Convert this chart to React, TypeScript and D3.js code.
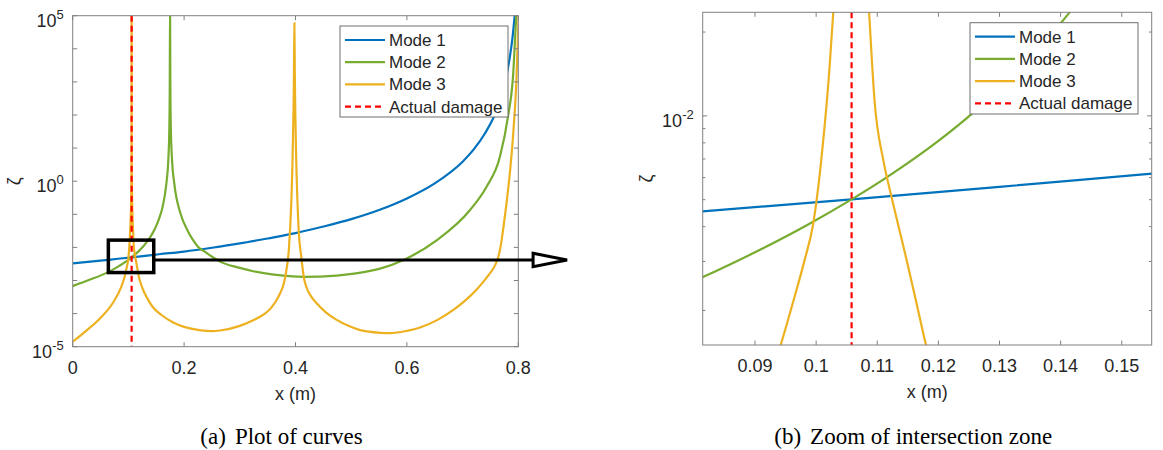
import React from "react";
import * as d3 from "d3";

type Pt = [number, number];

// Values: [x (m), log10 ζ]
const mode1: Pt[] = [
  [0, -2.48], [0.05, -2.4], [0.0814, -2.343], [0.1058, -2.3], [0.13, -2.255], [0.155, -2.207],
  [0.2, -2.125], [0.25, -2.01], [0.3, -1.88], [0.35, -1.73], [0.4, -1.57], [0.45, -1.37],
  [0.5, -1.146], [0.55, -0.87], [0.6, -0.52], [0.65, -0.065], [0.7, 0.59], [0.72, 0.96],
  [0.74, 1.44], [0.76, 2.1], [0.77, 2.6], [0.78, 3.29], [0.785, 3.77], [0.79, 4.4],
  [0.795, 5.3], [0.799, 6.2],
];

const mode2: Pt[] = [
  [0, -3.17], [0.03, -2.98], [0.061, -2.77], [0.0814, -2.58], [0.09, -2.49], [0.0987, -2.39],
  [0.1058, -2.3], [0.1116, -2.22], [0.12, -2.09], [0.1256, -1.99], [0.13, -1.9], [0.135, -1.79],
  [0.1399, -1.67], [0.1414, -1.63], [0.148, -1.42], [0.155, -1.14], [0.1616, -0.76], [0.1676, -0.15],
  [0.1718, 0.7], [0.1735, 1.6], [0.1743, 3.0], [0.1748, 5.3], [0.1753, 3.0], [0.1762, 1.6],
  [0.1785, 0.6], [0.1823, -0.06], [0.194, -1.0], [0.205, -1.45], [0.215, -1.75], [0.2245, -1.97],
  [0.239, -2.15], [0.2645, -2.43], [0.3, -2.62], [0.324, -2.72], [0.37, -2.84], [0.414, -2.89],
  [0.474, -2.85], [0.534, -2.71], [0.552, -2.64], [0.594, -2.38], [0.654, -1.78], [0.7134, -0.87],
  [0.743, -0.17], [0.767, 0.74], [0.7815, 1.95], [0.7905, 3.16], [0.7965, 5.02], [0.799, 5.6],
];

const mode3: Pt[] = [
  [0, -4.85], [0.024, -4.52], [0.048, -4.16], [0.072, -3.68], [0.0868, -3.21], [0.0942, -2.823],
  [0.0963, -2.663], [0.0981, -2.519], [0.0995, -2.39], [0.101, -2.124], [0.1022, -1.824],
  [0.1028, -1.628], [0.104, -1.18], [0.105, -0.48], [0.1055, 0.37], [0.1057, 1.3], [0.1058, 5.3],
  [0.1059, 1.3], [0.1061, 0.37], [0.1066, -0.48], [0.1076, -1.18], [0.10867, -1.628],
  [0.10955, -1.944], [0.111, -2.16], [0.11232, -2.29], [0.11456, -2.495], [0.11632, -2.663],
  [0.11797, -2.823], [0.125, -3.22], [0.135, -3.57], [0.1437, -3.8], [0.16, -4.05], [0.1796, -4.26],
  [0.2, -4.4], [0.2275, -4.5], [0.25, -4.53], [0.2645, -4.51], [0.3, -4.37], [0.324, -4.2],
  [0.345, -4.0], [0.355, -3.85], [0.365, -3.62], [0.372, -3.4], [0.379, -3.09], [0.383, -2.75],
  [0.388, -2.08], [0.3926, -0.57], [0.395, 0.9], [0.3972, 3.2], [0.398, 4.78], [0.3988, 3.2],
  [0.401, 0.9], [0.4034, -0.57], [0.406, -1.57], [0.4105, -2.3], [0.4148, -2.89], [0.42, -3.22],
  [0.428, -3.48], [0.438, -3.69], [0.455, -3.97], [0.474, -4.19], [0.495, -4.37], [0.516, -4.5],
  [0.552, -4.58], [0.57, -4.59], [0.6, -4.52], [0.6236, -4.42], [0.655, -4.19], [0.6834, -3.89],
  [0.705, -3.6], [0.7253, -3.27], [0.74, -2.98], [0.7493, -2.78], [0.758, -2.55], [0.764, -2.3],
  [0.769, -1.9], [0.774, -1.3], [0.78, -0.5], [0.786, 0.45], [0.792, 1.7], [0.7965, 3.0],
  [0.8, 4.7], [0.8015, 5.5],
];

const actualDamageX = 0.1058;

const seriesNames = ["Mode 1", "Mode 2", "Mode 3", "Actual damage"];
const seriesColors = ["#0072BD", "#77AC30", "#EDB120", "#FF0000"];
const seriesData = [mode1, mode2, mode3];

const leftXTicks = [0, 0.2, 0.4, 0.6, 0.8];
const leftXTickLabels = ["0", "0.2", "0.4", "0.6", "0.8"];
const leftYDecades = [-5, -4, -3, -2, -1, 0, 1, 2, 3, 4, 5];
const leftYLabelled = [-5, 0, 5];

const rightXTicks = [0.09, 0.1, 0.11, 0.12, 0.13, 0.14, 0.15];
const rightXTickLabels = ["0.09", "0.1", "0.11", "0.12", "0.13", "0.14", "0.15"];
const rightYMajor = [-2];
const rightYMinor = [0.002, 0.003, 0.004, 0.005, 0.006, 0.007, 0.008, 0.009, 0.02];

// zoom indicator, in data units of the left panel (x in m, y in log10 ζ)
const zoomBox = { x0: 0.064, x1: 0.1455, y0: -2.76, y1: -1.78, arrowY: -2.38, arrowTipX: 0.8876 };

const captionTags = ["(a)", "(b)"];
const captionTexts = ["Plot of curves", "Zoom of intersection zone"];

const SANS = "'Liberation Sans', Arial, Helvetica, sans-serif";
const SERIF = "'Liberation Serif', 'Times New Roman', Times, serif";
const AXIS = "#808080";
const TXT = "#262626";

type PanelProps = {
  id: string;
  x: d3.ScaleLinear<number, number>;
  y: d3.ScaleLogarithmic<number, number>;
  xTicks: number[];
  xTickLabels: string[];
  yMajor: number[];
  yLabelled: number[];
  yMinor: number[];
  legend: { x: number; y: number; w: number; h: number };
  yLabelX: number;
  caption: number;
};

function Pow10({ x, y, e }: { x: number; y: number; e: number }) {
  return (
    <text x={x} y={y} textAnchor="end" fontFamily={SANS} fontSize={18} fill={TXT}>
      10
      <tspan fontSize={13} dy={-8}>{String(e)}</tspan>
    </text>
  );
}

function Panel(p: PanelProps) {
  const [x0, x1] = p.x.range();
  const [yb, yt] = p.y.range();
  const tl = 4.5;
  const line = d3
    .line<Pt>()
    .x((d) => p.x(d[0]))
    .y((d) => p.y(Math.pow(10, d[1])))
    .curve(d3.curveMonotoneX);
  const cx = (x0 + x1) / 2;
  const cy = (yb + yt) / 2;
  const lg = p.legend;
  return (
    <g>
      <defs>
        <clipPath id={p.id}>
          <rect x={x0} y={yt} width={x1 - x0} height={yb - yt} />
        </clipPath>
      </defs>
      <rect x={x0} y={yt} width={x1 - x0} height={yb - yt} fill="#fff" />
      <g clipPath={`url(#${p.id})`}>
        {seriesData.map((d, i) => (
          <path key={i} d={line(d) || ""} fill="none" stroke={seriesColors[i]} strokeWidth={2.2} />
        ))}
        <line
          x1={p.x(actualDamageX)}
          x2={p.x(actualDamageX)}
          y1={yt}
          y2={yb}
          stroke={seriesColors[3]}
          strokeWidth={2.2}
          strokeDasharray="6,4"
        />
      </g>
      <rect x={x0} y={yt} width={x1 - x0} height={yb - yt} fill="none" stroke={AXIS} strokeWidth={1} />
      {p.xTicks.map((t, i) => (
        <g key={"xt" + i}>
          <line x1={p.x(t)} x2={p.x(t)} y1={yb} y2={yb - tl} stroke={AXIS} />
          <line x1={p.x(t)} x2={p.x(t)} y1={yt} y2={yt + tl} stroke={AXIS} />
          <text x={p.x(t)} y={yb + 27} textAnchor="middle" fontFamily={SANS} fontSize={18} fill={TXT}>
            {p.xTickLabels[i]}
          </text>
        </g>
      ))}
      {p.yMajor.map((e) => {
        const yy = p.y(Math.pow(10, e));
        return (
          <g key={"ym" + e}>
            <line x1={x0} x2={x0 + tl} y1={yy} y2={yy} stroke={AXIS} />
            <line x1={x1} x2={x1 - tl} y1={yy} y2={yy} stroke={AXIS} />
            {p.yLabelled.includes(e) && <Pow10 x={x0 - 9} y={yy + 11} e={e} />}
          </g>
        );
      })}
      {p.yMinor.map((v) => {
        const yy = p.y(v);
        return (
          <g key={"yn" + v}>
            <line x1={x0} x2={x0 + 2.7} y1={yy} y2={yy} stroke={AXIS} />
            <line x1={x1} x2={x1 - 2.7} y1={yy} y2={yy} stroke={AXIS} />
          </g>
        );
      })}
      <text x={cx} y={yb + 53} textAnchor="middle" fontFamily={SANS} fontSize={18} fill={TXT}>
        x (m)
      </text>
      <text
        transform={`translate(${p.yLabelX},${cy}) rotate(-90)`}
        textAnchor="middle"
        dy="0.35em"
        fontFamily={SANS}
        fontSize={18}
        fill={TXT}
      >
        ζ
      </text>
      <rect x={lg.x} y={lg.y} width={lg.w} height={lg.h} fill="#fff" stroke="#6e6e6e" strokeWidth={1} />
      {seriesNames.map((n, i) => {
        const ry = lg.y + 14 + i * 22.2;
        return (
          <g key={"lg" + i}>
            <line
              x1={lg.x + 5}
              x2={lg.x + 45}
              y1={ry}
              y2={ry}
              stroke={seriesColors[i]}
              strokeWidth={2.2}
              strokeDasharray={i === 3 ? "6,4" : undefined}
            />
            <text x={lg.x + 49} y={ry + 6} fontFamily={SANS} fontSize={17} fill={TXT}>
              {n}
            </text>
          </g>
        );
      })}
      <text x={cx - 14} y={444} textAnchor="middle" fontFamily={SERIF} fontSize={23} fill="#000">
        {captionTags[p.caption]}
        <tspan dx={9}>{captionTexts[p.caption]}</tspan>
      </text>
    </g>
  );
}

export default function App() {
  const xL = d3.scaleLinear().domain([0, 0.8]).range([72.7, 518.3]);
  const yL = d3.scaleLog().domain([1e-5, 1e5]).range([346.7, 15.7]);
  const xR = d3.scaleLinear().domain([0.08144, 0.1549]).range([702.7, 1151.7]);
  const yR = d3.scaleLog().domain([Math.pow(10, -2.823), Math.pow(10, -1.628)]).range([345, 12.3]);

  const bx0 = xL(zoomBox.x0);
  const bx1 = xL(zoomBox.x1);
  const by0 = yL(Math.pow(10, zoomBox.y1));
  const by1 = yL(Math.pow(10, zoomBox.y0));
  const ay = yL(Math.pow(10, zoomBox.arrowY));
  const tipX = xL(zoomBox.arrowTipX);
  const headLen = 34;
  const headHalf = 6.7;

  return (
    <svg
      width={1163}
      height={450}
      viewBox="0 0 1163 450"
      style={{ position: "absolute", left: 0, top: 0, background: "#fff" }}
    >
      <rect width={1163} height={450} fill="#fff" />
      <Panel
        id="clipL"
        x={xL}
        y={yL}
        xTicks={leftXTicks}
        xTickLabels={leftXTickLabels}
        yMajor={leftYDecades}
        yLabelled={leftYLabelled}
        yMinor={[]}
        legend={{ x: 340, y: 26, w: 168, h: 91 }}
        yLabelX={14}
        caption={0}
      />
      <Panel
        id="clipR"
        x={xR}
        y={yR}
        xTicks={rightXTicks}
        xTickLabels={rightXTickLabels}
        yMajor={rightYMajor}
        yLabelled={rightYMajor}
        yMinor={rightYMinor}
        legend={{ x: 970, y: 22.7, w: 168, h: 91.3 }}
        yLabelX={646}
        caption={1}
      />
      <rect x={bx0} y={by0} width={bx1 - bx0} height={by1 - by0} fill="none" stroke="#000" strokeWidth={3.5} />
      <line x1={bx1} x2={tipX - headLen} y1={ay} y2={ay} stroke="#000" strokeWidth={3.2} />
      <path
        d={`M${tipX - headLen},${ay - headHalf} L${tipX},${ay} L${tipX - headLen},${ay + headHalf} Z`}
        fill="#fff"
        stroke="#000"
        strokeWidth={3}
        strokeLinejoin="miter"
      />
    </svg>
  );
}
